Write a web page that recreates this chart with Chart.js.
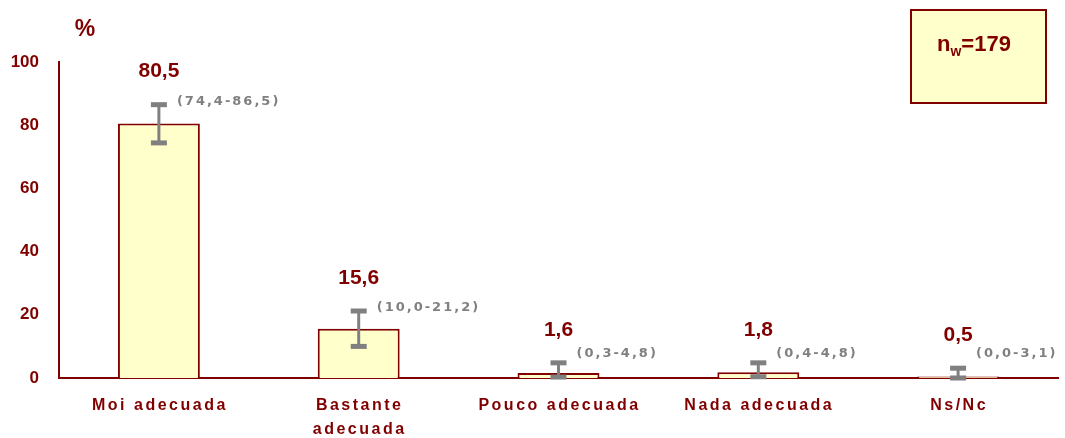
<!DOCTYPE html>
<html>
<head>
<meta charset="utf-8">
<script src="https://cdn.jsdelivr.net/npm/chart.js@4.4.0/dist/chart.umd.min.js"></script>
<style>
  html, body { margin: 0; padding: 0; background: #fff; }
  #wrap { width: 1065px; height: 438px; position: relative; }
</style>
</head>
<body>
<div id="wrap"><canvas id="chart" width="1065" height="438"></canvas></div>
<script>
// data
const categories = [["Moi adecuada"], ["Bastante", "adecuada"], ["Pouco adecuada"], ["Nada adecuada"], ["Ns/Nc"]];
const percentages = [80.5, 15.6, 1.6, 1.8, 0.5];
const ciLower = [74.4, 10.0, 0.3, 0.4, 0.0];
const ciUpper = [86.5, 21.2, 4.8, 4.8, 3.1];
const yTicks = [0, 20, 40, 60, 80, 100];
const sampleSize = 179;

const darkRed = "#800000";
const fmt = v => v.toFixed(1).replace(".", ",");

// error bars, value labels, CI labels, category labels and the n box
const extras = {
  id: "extras",
  afterDatasetsDraw(chart) {
    const ctx = chart.ctx;
    const y = chart.scales.y;
    const x = chart.scales.x;
    const meta = chart.getDatasetMeta(0);
    ctx.save();
    meta.data.forEach((bar, i) => {
      const cx = bar.x;
      const top = y.getPixelForValue(ciUpper[i]);
      const bot = y.getPixelForValue(ciLower[i]);
      // error bar
      ctx.strokeStyle = "#808080";
      ctx.lineWidth = 3;
      ctx.beginPath();
      ctx.moveTo(cx, top);
      ctx.lineTo(cx, bot);
      ctx.stroke();
      ctx.fillStyle = "#808080";
      ctx.fillRect(cx - 8, top - 2.5, 16, 5);
      ctx.fillRect(cx - 8, bot - 2.5, 16, 5);

      // value label
      ctx.fillStyle = darkRed;
      ctx.font = "bold 21px 'Liberation Sans', Arial, sans-serif";
      ctx.textAlign = "center";
      ctx.textBaseline = "middle";
      ctx.letterSpacing = "0px";
      ctx.fillText(fmt(percentages[i]), cx, top - 33);

      // CI label
      ctx.fillStyle = "#808080";
      ctx.font = "bold 13px 'DejaVu Sans', Verdana, sans-serif";
      ctx.textAlign = "left";
      ctx.letterSpacing = "2px";
      const ty = Math.min(top - 3, y.getPixelForValue(0) - 24);
      ctx.fillText("(" + fmt(ciLower[i]) + "-" + fmt(ciUpper[i]) + ")", cx + 18, ty);

      // category label
      ctx.fillStyle = darkRed;
      ctx.font = "bold 16px 'Liberation Sans', Arial, sans-serif";
      ctx.textAlign = "center";
      ctx.letterSpacing = "2.5px";
      const lx = x.getPixelForValue(i);
      categories[i].forEach((line, k) => {
        ctx.fillText(line, lx + 1, 406 + k * 24);
      });
    });

    // % unit
    ctx.letterSpacing = "0px";
    ctx.fillStyle = darkRed;
    ctx.font = "bold 23px 'Liberation Sans', Arial, sans-serif";
    ctx.textAlign = "center";
    ctx.fillText("%", 85, 30);

    // n box
    ctx.fillStyle = "#FFFFCC";
    ctx.fillRect(911, 10, 135, 93);
    ctx.strokeStyle = darkRed;
    ctx.lineWidth = 2;
    ctx.strokeRect(911, 10, 135, 93);
    ctx.fillStyle = darkRed;
    ctx.textAlign = "left";
    ctx.font = "bold 22px 'Liberation Sans', Arial, sans-serif";
    let px = 937;
    ctx.fillText("n", px, 45);
    px += ctx.measureText("n").width;
    ctx.font = "bold 14px 'Liberation Sans', Arial, sans-serif";
    ctx.fillText("w", px, 52);
    px += ctx.measureText("w").width;
    ctx.font = "bold 22px 'Liberation Sans', Arial, sans-serif";
    ctx.fillText("=" + sampleSize, px, 45);
    ctx.restore();
  }
};

new Chart(document.getElementById("chart"), {
  type: "bar",
  data: {
    labels: categories.map(c => c.join(" ")),
    datasets: [{
      data: percentages,
      backgroundColor: "#FFFFCC",
      borderColor: darkRed,
      borderWidth: 2,
      barPercentage: 1,
      categoryPercentage: 0.41
    }]
  },
  options: {
    responsive: false,
    animation: false,
    layout: { padding: { left: 0, right: 7, top: 62, bottom: 60 } },
    plugins: { legend: { display: false }, tooltip: { enabled: false } },
    scales: {
      x: {
        grid: { display: false, drawTicks: false },
        border: { color: darkRed, width: 2 },
        ticks: { display: false }
      },
      y: {
        min: 0,
        max: 100,
        afterBuildTicks: s => { s.ticks = yTicks.map(v => ({ value: v })); },
        afterFit: s => { s.width = 59; },
        grid: { display: false, drawTicks: false },
        border: { color: darkRed, width: 2 },
        ticks: {
          color: darkRed,
          padding: 20,
          font: { family: "'Liberation Sans', Arial, sans-serif", size: 17, weight: "bold" }
        }
      }
    }
  },
  plugins: [extras]
});
</script>
</body>
</html>
